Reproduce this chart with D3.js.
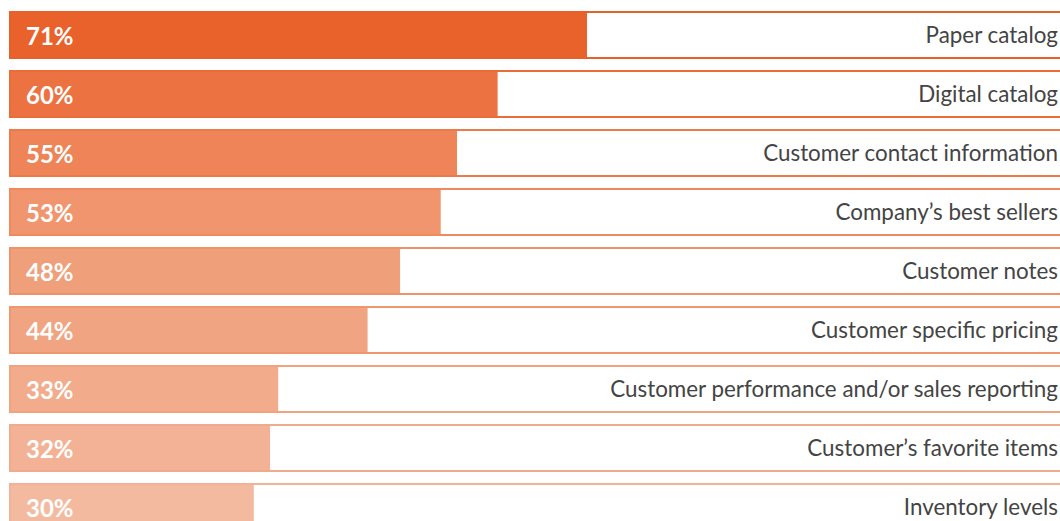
<!DOCTYPE html>
<html>
<head>
<meta charset="utf-8">
<script src="https://cdn.jsdelivr.net/npm/d3@7"></script>
<style>
  html, body { margin: 0; padding: 0; background: #fff; }
  svg { display: block; }
</style>
</head>
<body>
<svg id="chart" width="1060" height="521"></svg>
<script>
// Share of respondents per item
const categories = [
  "Paper catalog",
  "Digital catalog",
  "Customer contact information",
  "Company’s best sellers",
  "Customer notes",
  "Customer specific pricing",
  "Customer performance and/or sales reporting",
  "Customer’s favorite items",
  "Inventory levels"
];
const values = [71, 60, 55, 53, 48, 44, 33, 32, 30];
const fills   = ["#E9622B", "#EC7241", "#EE8457", "#F0956E", "#F09F7B", "#F1A482", "#F2AB8B", "#F3B296", "#F4BAA0"];
const strokes = ["#E95F28", "#EA6C38", "#EC7B4A", "#EE8A5E", "#EE9269", "#EF986F", "#F1A27F", "#F2AA8C", "#F3B298"];

const W = 1060;
const svg = d3.select("#chart");

const x = d3.scaleLinear().domain([0, 100]).range([10, 822.7]);
// 59px per row, 48px of which is the band
const y = d3.scaleBand().domain(categories).range([11, 11 + 59 * categories.length - 11])
  .paddingInner(11 / 59).paddingOuter(0).align(0);

const rows = svg.selectAll("g.row").data(categories).join("g").attr("class", "row");

// row frame
rows.append("rect")
  .attr("x", x(0))
  .attr("y", d => y(d) + 1)
  .attr("width", W + 20 - x(0))
  .attr("height", y.bandwidth() - 2)
  .attr("fill", "#fff")
  .attr("stroke", (d, i) => strokes[i])
  .attr("stroke-width", 2);

// value bar
rows.append("rect")
  .attr("x", x(0) + 1)
  .attr("y", d => y(d) + 2)
  .attr("width", (d, i) => x(values[i]) - x(0) - 1)
  .attr("height", y.bandwidth() - 4)
  .attr("fill", (d, i) => fills[i]);

// value label
rows.append("text")
  .attr("x", 26)
  .attr("y", d => y(d) + y.bandwidth() / 2 + 1)
  .attr("dy", "0.36em")
  .attr("fill", "#fff")
  .attr("font-family", "Lato, 'Open Sans', sans-serif")
  .attr("font-weight", 700)
  .attr("font-size", 24)
  .text((d, i) => values[i] + "%");

// category label
rows.append("text")
  .attr("x", 1058)
  .attr("y", d => y(d) + y.bandwidth() / 2)
  .attr("dy", "0.36em")
  .attr("text-anchor", "end")
  .attr("fill", "#444")
  .attr("font-family", "Lato, 'Open Sans', sans-serif")
  .attr("font-size", 22.4)
  .text(d => d);
</script>
</body>
</html>
